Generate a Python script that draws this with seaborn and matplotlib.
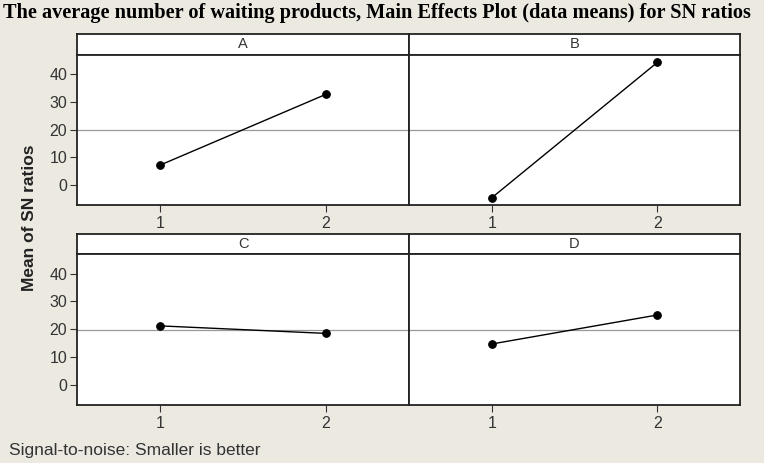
import matplotlib
matplotlib.use("Agg")
import matplotlib.pyplot as plt
import seaborn as sns
import numpy as np
import pandas as pd

factors = ["A", "B", "C", "D"]
levels = [1, 2]
a_means = [7.2, 32.8]
b_means = [-4.6, 44.3]
c_means = [21.2, 18.5]
d_means = [14.7, 25.1]
yticks = [0, 10, 20, 30, 40]

title = "The average number of waiting products, Main Effects Plot (data means) for SN ratios"
ylabel = "Mean of SN ratios"
footer = "Signal-to-noise: Smaller is better"

series = {"A": a_means, "B": b_means, "C": c_means, "D": d_means}
df = pd.DataFrame([(f, lv, v) for f in factors for lv, v in zip(levels, series[f])],
                  columns=["factor", "level", "sn"])
grand_mean = np.mean(df["sn"])

sns.set_theme(style="white")
plt.rcParams['font.family'] = ['Liberation Sans', 'DejaVu Sans']

W, H = 764, 463
fig = plt.figure(figsize=(W / 100, H / 100), dpi=100)
fig.patch.set_facecolor("#ECE9E1")

def fx(px):
    return px / W

def fy(py):
    return 1 - py / H

cols = [(77, 409), (409, 740)]
rows = [(34, 55, 205), (234, 254, 405)]

for i, f in enumerate(factors):
    r, c = divmod(i, 2)
    x0, x1 = cols[c]
    h0, p0, p1 = rows[r]
    # header strip
    hax = fig.add_axes([fx(x0), fy(p0), fx(x1 - x0), (p0 - h0) / H])
    hax.set_facecolor("white")
    hax.set_xticks([]); hax.set_yticks([])
    for s in hax.spines.values():
        s.set_color("#222222"); s.set_linewidth(1.3)
    hax.text(0.5, 0.5, f, ha="center", va="center", fontsize=10.5, color="#333333",
             transform=hax.transAxes)
    # plot
    ax = fig.add_axes([fx(x0), fy(p1), fx(x1 - x0), (p1 - p0) / H])
    ax.set_facecolor("white")
    ax.axhline(grand_mean, color="#999999", lw=0.9, zorder=1)
    sub = df[df["factor"] == f]
    sns.lineplot(data=sub, x="level", y="sn", ax=ax, color="black", lw=1.0,
                 marker="o", markersize=5.5, markeredgecolor="black", zorder=3)
    ax.set_xlim(0.5, 2.5)
    ax.set_ylim(-7.2, 47)
    ax.set_xticks(levels)
    ax.set_xticklabels([str(l) for l in levels])
    ax.set_yticks(yticks)
    ax.set_xlabel(""); ax.set_ylabel("")
    ax.tick_params(axis="x", direction="out", length=5, width=0.8, color="#333333",
                   labelsize=11.5, labelcolor="#333333", pad=3, bottom=True)
    if c == 0:
        ax.tick_params(axis="y", direction="out", length=5, width=0.8, color="#333333",
                       labelsize=11.5, labelcolor="#333333", pad=2, left=True)
    else:
        ax.tick_params(axis="y", left=False, labelleft=False)
    for s in ax.spines.values():
        s.set_color("#222222"); s.set_linewidth(1.3)

fig.text(fx(3), fy(13), title, ha="left", va="center", fontsize=14.6, fontweight="bold",
         family=["Liberation Serif", "DejaVu Serif"], color="black")
fig.text(fx(30), fy(218), ylabel, ha="center", va="center", rotation=90, fontsize=12.5,
         fontweight="bold", color="#222222")
fig.text(fx(9), fy(451), footer, ha="left", va="center", fontsize=12.5, color="#333333")

fig.savefig("out.png", dpi=100, facecolor=fig.get_facecolor())
